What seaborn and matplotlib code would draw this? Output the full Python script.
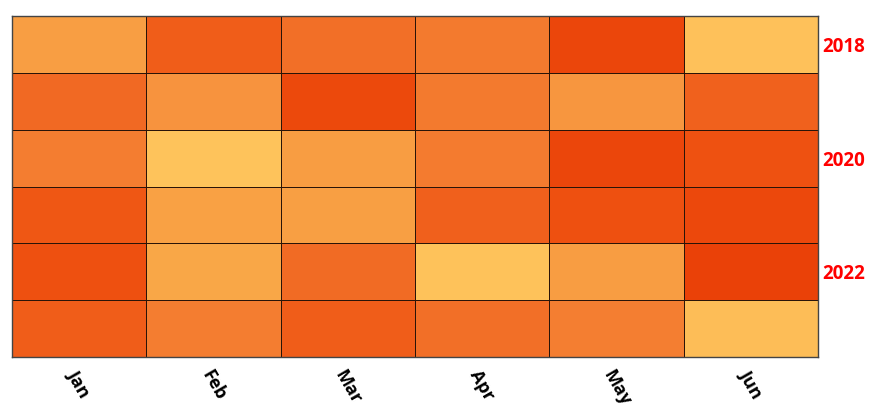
import numpy as np
import pandas as pd
import matplotlib
matplotlib.use("Agg")
import matplotlib.pyplot as plt
import seaborn as sns
from matplotlib.colors import LinearSegmentedColormap

months = ["Jan", "Feb", "Mar", "Apr", "May", "Jun"]
years = ["2018", "2019", "2020", "2021", "2022", "2023"]

# intensity values (0 = lightest, 100 = darkest)
v2018 = [35, 82, 68, 62, 97, 2]
v2019 = [72, 45, 95, 62, 42, 78]
v2020 = [60, 0, 36, 61, 97, 90]
v2021 = [87, 33, 34, 79, 91, 96]
v2022 = [91, 27, 71, 1, 36, 100]
v2023 = [82, 60, 82, 68, 59, 6]

df = pd.DataFrame([v2018, v2019, v2020, v2021, v2022, v2023],
                  index=years, columns=months)

cmap = LinearSegmentedColormap.from_list("orange", [
    (0.0, "#FEC35B"), (0.3, "#F9A445"), (0.45, "#F7933E"), (0.6, "#F47D30"),
    (0.75, "#F06420"), (0.85, "#F05A16"), (1.0, "#EA4108")])

sns.set_style("white")
plt.rcParams["font.family"] = ["Open Sans", "DejaVu Sans"]

fig = plt.figure(figsize=(8.78, 4.08), dpi=100)
ax = fig.add_axes([12 / 878, 1 - 357 / 408, 806 / 878, 341 / 408])

sns.heatmap(df, ax=ax, cmap=cmap, vmin=0, vmax=100, cbar=False,
            linewidths=0.6, linecolor="#2a1408")

for s in ax.spines.values():
    s.set_visible(True)
    s.set_color("#444444")
    s.set_linewidth(1.0)

ax.yaxis.tick_right()
ax.set_yticks([0.5, 2.5, 4.5])
ax.set_yticklabels(["2018", "2020", "2022"], rotation=0, color="#FF0000",
                   fontweight="bold", fontsize=13.5)
ax.set_xticklabels(months, rotation=-60, ha="center", fontweight="bold",
                   fontsize=13, color="black")
ax.tick_params(axis="both", length=0)
ax.tick_params(axis="x", pad=7)
ax.tick_params(axis="y", pad=3)
ax.set_xlabel("")
ax.set_ylabel("")

fig.savefig("out.png", dpi=100)
